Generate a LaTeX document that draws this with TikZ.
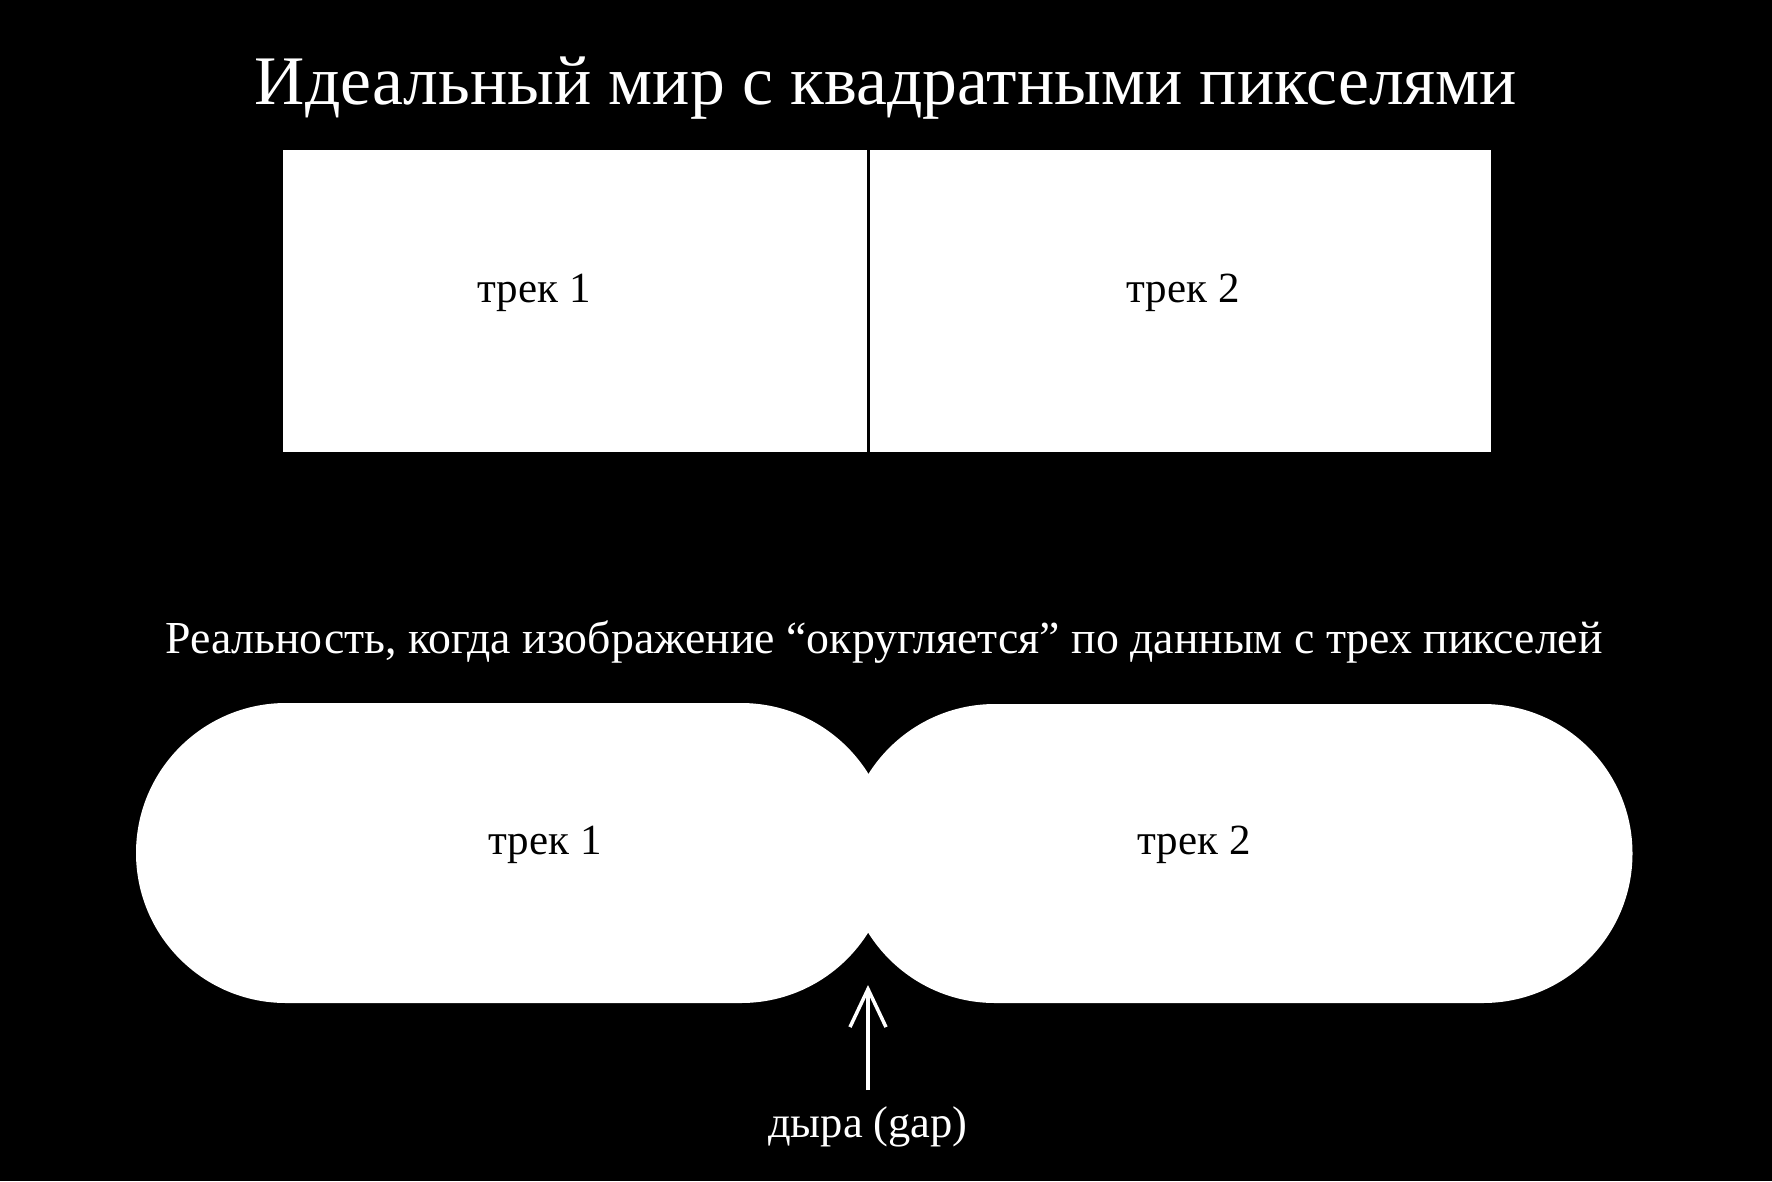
\documentclass[tikz,border=0pt]{standalone}
\usepackage{fontspec}
\setmainfont{Liberation Serif}
\usetikzlibrary{arrows.meta}
\begin{document}
\begin{tikzpicture}[x=1pt,y=-1pt,
  lbl/.style={text=white,inner sep=0pt,anchor=base},
  inlbl/.style={text=black,inner sep=0pt,anchor=base,font=\fontsize{43}{45}\selectfont},
  box/.style={fill=white,draw=none,inner sep=0pt,minimum height=302pt},
  blob/.style={fill=white,draw=none}]
\fill[black] (0,0) rectangle (1772,1181);
\useasboundingbox (0,0) rectangle (1772,1181);
% title
\node[lbl,font=\fontsize{69.6}{72}\selectfont] (title) at (886,104) {Идеальный мир с квадратными пикселями};
% top boxes
\node[box,minimum width=584pt] (b1) at (574.5,301) {};
\node[box,minimum width=621pt] (b2) at (1180,301) {};
\node[inlbl] (t1) at (534,302) {трек 1};
\node[inlbl] (t2) at (1183,302) {трек 2};
% subtitle
\node[lbl,font=\fontsize{45.8}{47}\selectfont] (sub) at (884,653) {Реальность, когда изображение “округляется” по данным с трех пикселей};
% blobs
\fill[blob] (286,703) -- (741,703) arc[start angle=-90,end angle=90,radius=150] -- (286,1003) arc[start angle=90,end angle=270,radius=150] -- cycle;
\fill[blob] (995,704) -- (1483,704) arc[start angle=-90,end angle=90,radius=149.5] -- (995,1003) arc[start angle=90,end angle=270,radius=149.5] -- cycle;
\node[inlbl] (u1) at (545,854) {трек 1};
\node[inlbl] (u2) at (1194,854) {трек 2};
% gap arrow
\coordinate (tip) at (868,985);
\node[lbl,font=\fontsize{44.5}{46}\selectfont] (gap) at (868,1137) {дыра (gap)};
\draw[white,line width=3.5pt,-{Straight Barb[length=38pt,width=36pt,line width=3.5pt]}] (868,1090) -- (tip);
\end{tikzpicture}
\end{document}
